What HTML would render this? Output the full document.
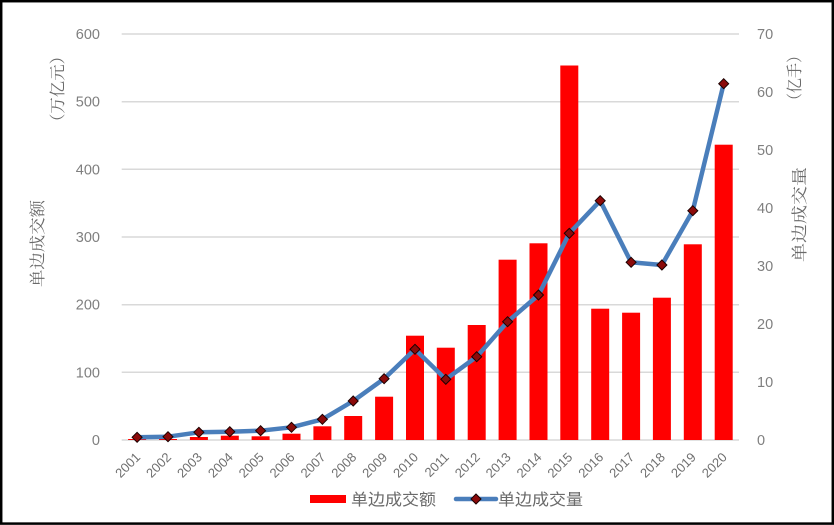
<!DOCTYPE html>
<html><head><meta charset="utf-8"><style>
html,body{margin:0;padding:0;background:#fff;}
svg{display:block;}
.t{font-family:"Liberation Sans",sans-serif;fill:#7f7f7f;font-size:14.5px;}
.x{font-family:"Liberation Sans",sans-serif;fill:#6f6f6f;font-size:13px;}
.cs{font-family:"Liberation Serif","Noto Serif CJK SC",serif;fill:#6a6a6a;font-size:16px;}
.lg{font-family:"Liberation Sans","Noto Sans CJK SC",sans-serif;fill:#6a6a6a;font-size:16px;}
</style></head><body>
<svg width="834" height="525" viewBox="0 0 834 525" xmlns="http://www.w3.org/2000/svg">
<rect x="0" y="0" width="834" height="525" fill="#fff"/>
<rect x="1.2" y="1.2" width="831.6" height="522.4" fill="none" stroke="#000" stroke-width="2.5"/>
<!-- gridlines -->
<g stroke="#d9d9d9" stroke-width="1.5">
<line x1="121.7" y1="34" x2="739" y2="34"/>
<line x1="121.7" y1="101.7" x2="739" y2="101.7"/>
<line x1="121.7" y1="169.3" x2="739" y2="169.3"/>
<line x1="121.7" y1="237" x2="739" y2="237"/>
<line x1="121.7" y1="304.7" x2="739" y2="304.7"/>
<line x1="121.7" y1="372.3" x2="739" y2="372.3"/>
<line x1="121.7" y1="440" x2="739" y2="440"/>
</g>
<!-- left ticks -->
<g class="t" text-anchor="end">
<text x="100" y="39">600</text>
<text x="100" y="106.7">500</text>
<text x="100" y="174.3">400</text>
<text x="100" y="242">300</text>
<text x="100" y="309.7">200</text>
<text x="100" y="377.3">100</text>
<text x="100" y="445">0</text>
</g>
<!-- right ticks -->
<g class="t" text-anchor="start">
<text x="757" y="39">70</text>
<text x="757" y="97">60</text>
<text x="757" y="155">50</text>
<text x="757" y="213">40</text>
<text x="757" y="271">30</text>
<text x="757" y="329">20</text>
<text x="757" y="387">10</text>
<text x="757" y="445">0</text>
</g>
<!-- axis titles -->
<text class="cs" transform="translate(43,287) rotate(-90)" textLength="87" lengthAdjust="spacingAndGlyphs">单边成交额</text>
<text class="cs" transform="translate(63,130) rotate(-90)" textLength="82" lengthAdjust="spacingAndGlyphs">（万亿元）</text>
<text class="cs" transform="translate(800,108) rotate(-90)" textLength="60" lengthAdjust="spacingAndGlyphs">（亿手）</text>
<text class="cs" transform="translate(805,262) rotate(-90)" textLength="95" lengthAdjust="spacingAndGlyphs">单边成交量</text>
<!-- bars -->
<g fill="#ff0000">
<rect x="128.1" y="439" width="18" height="1"/>
<rect x="159.0" y="439" width="18" height="1"/>
<rect x="189.9" y="437" width="18" height="3"/>
<rect x="220.8" y="435.7" width="18" height="4.3"/>
<rect x="251.6" y="436.3" width="18" height="3.7"/>
<rect x="282.5" y="433.7" width="18" height="6.3"/>
<rect x="313.4" y="426.3" width="18" height="13.7"/>
<rect x="344.2" y="416" width="18" height="24"/>
<rect x="375.1" y="396.7" width="18" height="43.3"/>
<rect x="406.0" y="335.7" width="18" height="104.3"/>
<rect x="436.8" y="347.7" width="18" height="92.3"/>
<rect x="467.7" y="325" width="18" height="115"/>
<rect x="498.6" y="259.7" width="18" height="180.3"/>
<rect x="529.5" y="243.3" width="18" height="196.7"/>
<rect x="560.3" y="65.5" width="18" height="374.5"/>
<rect x="591.2" y="308.7" width="18" height="131.3"/>
<rect x="622.1" y="312.7" width="18" height="127.3"/>
<rect x="652.9" y="297.7" width="18" height="142.3"/>
<rect x="683.8" y="244.3" width="18" height="195.7"/>
<rect x="714.7" y="144.7" width="18" height="295.3"/>
</g>
<!-- line -->
<polyline fill="none" stroke="#4a7ebb" stroke-width="4.5" stroke-linejoin="round" stroke-linecap="round"
points="137.1,437.3 168.0,436.7 198.9,432.3 229.8,431.7 260.6,430.7 291.5,427.3 322.4,419.3 353.2,401 384.1,378.7 415.0,349.3 445.8,379.3 476.7,356.7 507.6,321.7 538.5,295 569.3,233.3 600.2,200.7 631.1,262.3 661.9,265 692.8,210.7 723.7,83.7"/>
<g fill="#8b0a0a" stroke="#1a0000" stroke-width="1">
<path d="M137.1,432.3 l5,5 l-5,5 l-5,-5z"/>
<path d="M168.0,431.7 l5,5 l-5,5 l-5,-5z"/>
<path d="M198.9,427.3 l5,5 l-5,5 l-5,-5z"/>
<path d="M229.8,426.7 l5,5 l-5,5 l-5,-5z"/>
<path d="M260.6,425.7 l5,5 l-5,5 l-5,-5z"/>
<path d="M291.5,422.3 l5,5 l-5,5 l-5,-5z"/>
<path d="M322.4,414.3 l5,5 l-5,5 l-5,-5z"/>
<path d="M353.2,396 l5,5 l-5,5 l-5,-5z"/>
<path d="M384.1,373.7 l5,5 l-5,5 l-5,-5z"/>
<path d="M415.0,344.3 l5,5 l-5,5 l-5,-5z"/>
<path d="M445.8,374.3 l5,5 l-5,5 l-5,-5z"/>
<path d="M476.7,351.7 l5,5 l-5,5 l-5,-5z"/>
<path d="M507.6,316.7 l5,5 l-5,5 l-5,-5z"/>
<path d="M538.5,290 l5,5 l-5,5 l-5,-5z"/>
<path d="M569.3,228.3 l5,5 l-5,5 l-5,-5z"/>
<path d="M600.2,195.7 l5,5 l-5,5 l-5,-5z"/>
<path d="M631.1,257.3 l5,5 l-5,5 l-5,-5z"/>
<path d="M661.9,260 l5,5 l-5,5 l-5,-5z"/>
<path d="M692.8,205.7 l5,5 l-5,5 l-5,-5z"/>
<path d="M723.7,78.7 l5,5 l-5,5 l-5,-5z"/>
</g>
<!-- x labels -->
<g class="x" text-anchor="end">
<text transform="translate(141.1,458) rotate(-45)">2001</text>
<text transform="translate(172.0,458) rotate(-45)">2002</text>
<text transform="translate(202.9,458) rotate(-45)">2003</text>
<text transform="translate(233.8,458) rotate(-45)">2004</text>
<text transform="translate(264.6,458) rotate(-45)">2005</text>
<text transform="translate(295.5,458) rotate(-45)">2006</text>
<text transform="translate(326.4,458) rotate(-45)">2007</text>
<text transform="translate(357.2,458) rotate(-45)">2008</text>
<text transform="translate(388.1,458) rotate(-45)">2009</text>
<text transform="translate(419.0,458) rotate(-45)">2010</text>
<text transform="translate(449.8,458) rotate(-45)">2011</text>
<text transform="translate(480.7,458) rotate(-45)">2012</text>
<text transform="translate(511.6,458) rotate(-45)">2013</text>
<text transform="translate(542.5,458) rotate(-45)">2014</text>
<text transform="translate(573.3,458) rotate(-45)">2015</text>
<text transform="translate(604.2,458) rotate(-45)">2016</text>
<text transform="translate(635.1,458) rotate(-45)">2017</text>
<text transform="translate(665.9,458) rotate(-45)">2018</text>
<text transform="translate(696.8,458) rotate(-45)">2019</text>
<text transform="translate(727.7,458) rotate(-45)">2020</text>
</g>
<!-- legend -->
<rect x="310" y="495" width="36" height="8" fill="#ff0000"/>
<text class="lg" x="351" y="505" textLength="85" lengthAdjust="spacingAndGlyphs">单边成交额</text>
<line x1="456" y1="499" x2="496" y2="499" stroke="#4a7ebb" stroke-width="4.5" stroke-linecap="round"/>
<path d="M476,494 l5,5 l-5,5 l-5,-5z" fill="#8b0a0a" stroke="#1a0000" stroke-width="1"/>
<text class="lg" x="498" y="505" textLength="85" lengthAdjust="spacingAndGlyphs">单边成交量</text>
</svg>
</body></html>
